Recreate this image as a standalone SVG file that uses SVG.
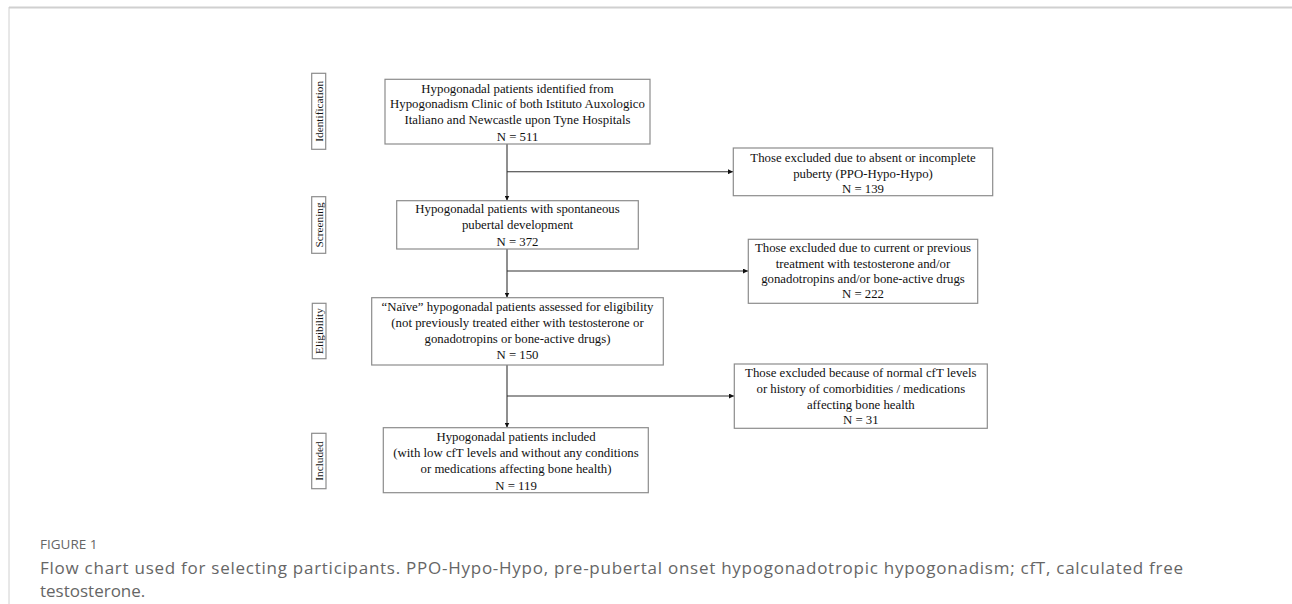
<svg xmlns="http://www.w3.org/2000/svg" width="1292" height="604" viewBox="0 0 1292 604">
<style>
.box{fill:#fff;stroke:#8c8c8c;stroke-width:1.2}
.t{font-family:"Liberation Serif","Times New Roman",serif;font-size:12.8px;fill:#111;text-anchor:middle}
.lab{font-family:"Liberation Serif","Times New Roman",serif;font-size:11.3px;fill:#111;text-anchor:middle}
.conn{stroke:#333;stroke-width:1.1;fill:none}
.cap{font-family:"Open Sans","Noto Sans",sans-serif;fill:#666}
</style>
<defs>
<marker id="ah" viewBox="0 0 10 10" refX="10" refY="5" markerWidth="5" markerHeight="5" orient="auto" markerUnits="userSpaceOnUse">
<path d="M0,0 L10,5 L0,10 z" fill="#111"/>
</marker>
</defs>
<rect width="1292" height="604" fill="#fff"/>
<g id="frame">
<line x1="9" y1="7.5" x2="1292" y2="7.5" stroke="#d0d0d0" stroke-width="2"/>
<line x1="9" y1="7" x2="9" y2="604" stroke="#d0d0d0" stroke-width="1"/>
</g>
<g id="label-identification">
<rect class="box" x="311.7" y="73.3" width="14" height="76"/>
<text class="lab" transform="translate(322.5,111.3) rotate(-90)">Identification</text>
</g>
<g id="label-screening">
<rect class="box" x="311.7" y="196.7" width="14" height="56.6"/>
<text class="lab" transform="translate(322.5,225) rotate(-90)">Screening</text>
</g>
<g id="label-eligibility">
<rect class="box" x="312.3" y="303.3" width="13.7" height="55.4"/>
<text class="lab" transform="translate(323,331) rotate(-90)">Eligibility</text>
</g>
<g id="label-included">
<rect class="box" x="311.7" y="433.3" width="14.3" height="55.4"/>
<text class="lab" transform="translate(322.6,461) rotate(-90)">Included</text>
</g>
<g id="connectors">
<line class="conn" x1="507" y1="144" x2="507" y2="200.5" marker-end="url(#ah)"/>
<line class="conn" x1="507" y1="171.7" x2="733" y2="171.7" marker-end="url(#ah)"/>
<line class="conn" x1="507" y1="249" x2="507" y2="297.5" marker-end="url(#ah)"/>
<line class="conn" x1="507" y1="271" x2="748" y2="271" marker-end="url(#ah)"/>
<line class="conn" x1="507" y1="365" x2="507" y2="427.5" marker-end="url(#ah)"/>
<line class="conn" x1="507" y1="396" x2="734" y2="396" marker-end="url(#ah)"/>
</g>
<g id="identified">
<rect class="box" x="385" y="79.3" width="265" height="64.7"/>
<text class="t" x="517.5" y="92.7">Hypogonadal patients identified from</text>
<text class="t" x="517.5" y="108.3">Hypogonadism Clinic of both Istituto Auxologico</text>
<text class="t" x="517.5" y="124.3">Italiano and Newcastle upon Tyne Hospitals</text>
<text class="t" x="517.5" y="140.7">N = 511</text>
</g>
<g id="excluded-puberty">
<rect class="box" x="733.3" y="148" width="259.4" height="47.7"/>
<text class="t" x="863" y="161.5">Those excluded due to absent or incomplete</text>
<text class="t" x="863" y="177.5">puberty (PPO-Hypo-Hypo)</text>
<text class="t" x="863" y="192.7">N = 139</text>
</g>
<g id="screening">
<rect class="box" x="396.7" y="200.7" width="241.6" height="48.3"/>
<text class="t" x="517.5" y="213.3">Hypogonadal patients with spontaneous</text>
<text class="t" x="517.5" y="229.3">pubertal development</text>
<text class="t" x="517.5" y="245.7">N = 372</text>
</g>
<g id="excluded-treatment">
<rect class="box" x="748.3" y="239.3" width="229.4" height="64"/>
<text class="t" x="863" y="252.3">Those excluded due to current or previous</text>
<text class="t" x="863" y="267.7">treatment with testosterone and/or</text>
<text class="t" x="863" y="283.3">gonadotropins and/or bone-active drugs</text>
<text class="t" x="863" y="298.3">N = 222</text>
</g>
<g id="eligibility">
<rect class="box" x="371.7" y="297.7" width="291.6" height="67.3"/>
<text class="t" x="517.5" y="310.7">“Naïve” hypogonadal patients assessed for eligibility</text>
<text class="t" x="517.5" y="327.3">(not previously treated either with testosterone or</text>
<text class="t" x="517.5" y="343.3">gonadotropins or bone-active drugs)</text>
<text class="t" x="517.5" y="359.3">N = 150</text>
</g>
<g id="excluded-cft">
<rect class="box" x="734.3" y="364" width="253" height="64.3"/>
<text class="t" x="860.8" y="377.3">Those excluded because of normal cfT levels</text>
<text class="t" x="860.8" y="393.3">or history of comorbidities / medications</text>
<text class="t" x="860.8" y="409">affecting bone health</text>
<text class="t" x="860.8" y="424">N = 31</text>
</g>
<g id="included">
<rect class="box" x="383.3" y="427.7" width="265" height="65"/>
<text class="t" x="516" y="440.7">Hypogonadal patients included</text>
<text class="t" x="516" y="457.3">(with low cfT levels and without any conditions</text>
<text class="t" x="516" y="473.3">or medications affecting bone health)</text>
<text class="t" x="516" y="490">N = 119</text>
</g>
<g id="caption">
<text class="cap" x="40" y="549" font-size="13.5">FIGURE 1</text>
<text class="cap" x="40" y="573.5" font-size="17" textLength="1143" lengthAdjust="spacing">Flow chart used for selecting participants. PPO-Hypo-Hypo, pre-pubertal onset hypogonadotropic hypogonadism; cfT, calculated free</text>
<text class="cap" x="40" y="597" font-size="17">testosterone.</text>
</g>
</svg>
